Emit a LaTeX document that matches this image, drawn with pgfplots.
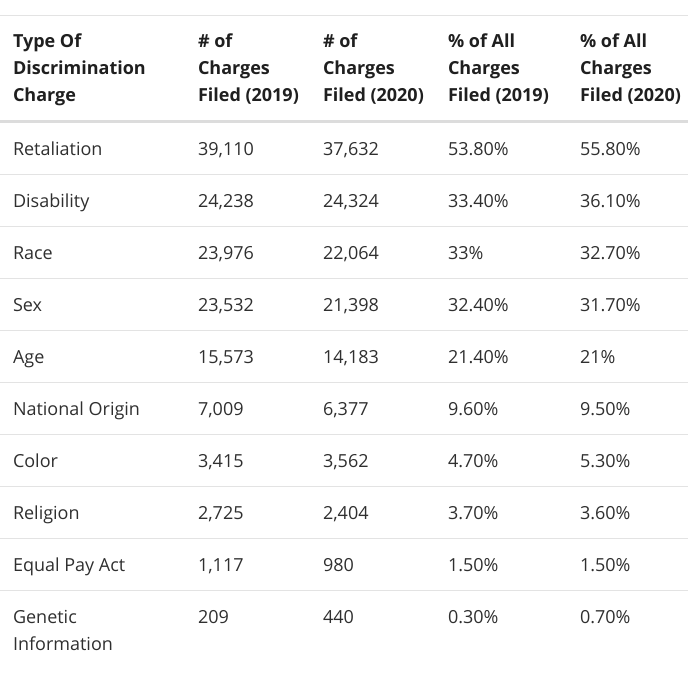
\documentclass[border=0pt]{standalone}
\usepackage{fontspec}
\setmainfont{Open Sans}
\usepackage{pgfplots}
\usepackage{pgfplotstable}
\pgfplotsset{compat=1.18}
\definecolor{bodytext}{HTML}{2F2F2F}
\definecolor{headtext}{HTML}{1F1F1F}
\definecolor{rule}{HTML}{E3E3E3}
\definecolor{headrule}{HTML}{DCDCDC}

\pgfplotstableread[col sep=semicolon]{
x;y;t
13;47.5;Type Of
13;74.5;Discrimination
13;101.5;Charge
198;47.5;\# of
198;74.5;Charges
198;101.5;Filed (2019)
323;47.5;\# of
323;74.5;Charges
323;101.5;Filed (2020)
448;47.5;\% of All
448;74.5;Charges
448;101.5;Filed (2019)
580;47.5;\% of All
580;74.5;Charges
580;101.5;Filed (2020)
}\headtab

\pgfplotstableread[col sep=semicolon]{
x;y;t
13;155;Retaliation
198;155;39,110
323;155;37,632
448;155;53.80\%
580;155;55.80\%
13;207;Disability
198;207;24,238
323;207;24,324
448;207;33.40\%
580;207;36.10\%
13;259;Race
198;259;23,976
323;259;22,064
448;259;33\%
580;259;32.70\%
13;311;Sex
198;311;23,532
323;311;21,398
448;311;32.40\%
580;311;31.70\%
13;363;Age
198;363;15,573
323;363;14,183
448;363;21.40\%
580;363;21\%
13;415;National Origin
198;415;7,009
323;415;6,377
448;415;9.60\%
580;415;9.50\%
13;467;Color
198;467;3,415
323;467;3,562
448;467;4.70\%
580;467;5.30\%
13;519;Religion
198;519;2,725
323;519;2,404
448;519;3.70\%
580;519;3.60\%
13;571;Equal Pay Act
198;571;1,117
323;571;980
448;571;1.50\%
580;571;1.50\%
13;623;Genetic
13;650;Information
198;623;209
323;623;440
448;623;0.30\%
580;623;0.70\%
}\bodytab

\begin{document}
\begin{tikzpicture}
\begin{axis}[
  width=688bp, height=673bp, scale only axis,
  xmin=0, xmax=688, ymin=0, ymax=673,
  y dir=reverse,
  hide axis, clip=false,
]
\addplot[draw=none, mark=none] coordinates {(0,0) (688,673)};
% rules
\addplot[draw=rule, line width=1.2bp] coordinates {(0,15.3) (688,15.3)};
\addplot[draw=headrule, line width=3bp] coordinates {(0,121.5) (688,121.5)};
\pgfplotsinvokeforeach{174.3,226.3,278.3,330.3,382.3,434.3,486.3,538.3,590.3}{
  \addplot[draw=rule, line width=1.2bp] coordinates {(0,#1) (688,#1)};
}
% header text
\addplot[draw=none, mark=none, nodes near coords, point meta=explicit symbolic,
  every node near coord/.style={anchor=base west, inner sep=0pt, outer sep=0pt,
    font=\fontsize{18bp}{27bp}\selectfont\bfseries, text=headtext}]
  table[x=x, y=y, meta=t] {\headtab};
% body text
\addplot[draw=none, mark=none, nodes near coords, point meta=explicit symbolic,
  every node near coord/.style={anchor=base west, inner sep=0pt, outer sep=0pt,
    font=\fontsize{18bp}{27bp}\selectfont, text=bodytext}]
  table[x=x, y=y, meta=t] {\bodytab};
\end{axis}
\pgfresetboundingbox
\useasboundingbox (current axis.south west) rectangle (current axis.north east);
\end{tikzpicture}
\end{document}
